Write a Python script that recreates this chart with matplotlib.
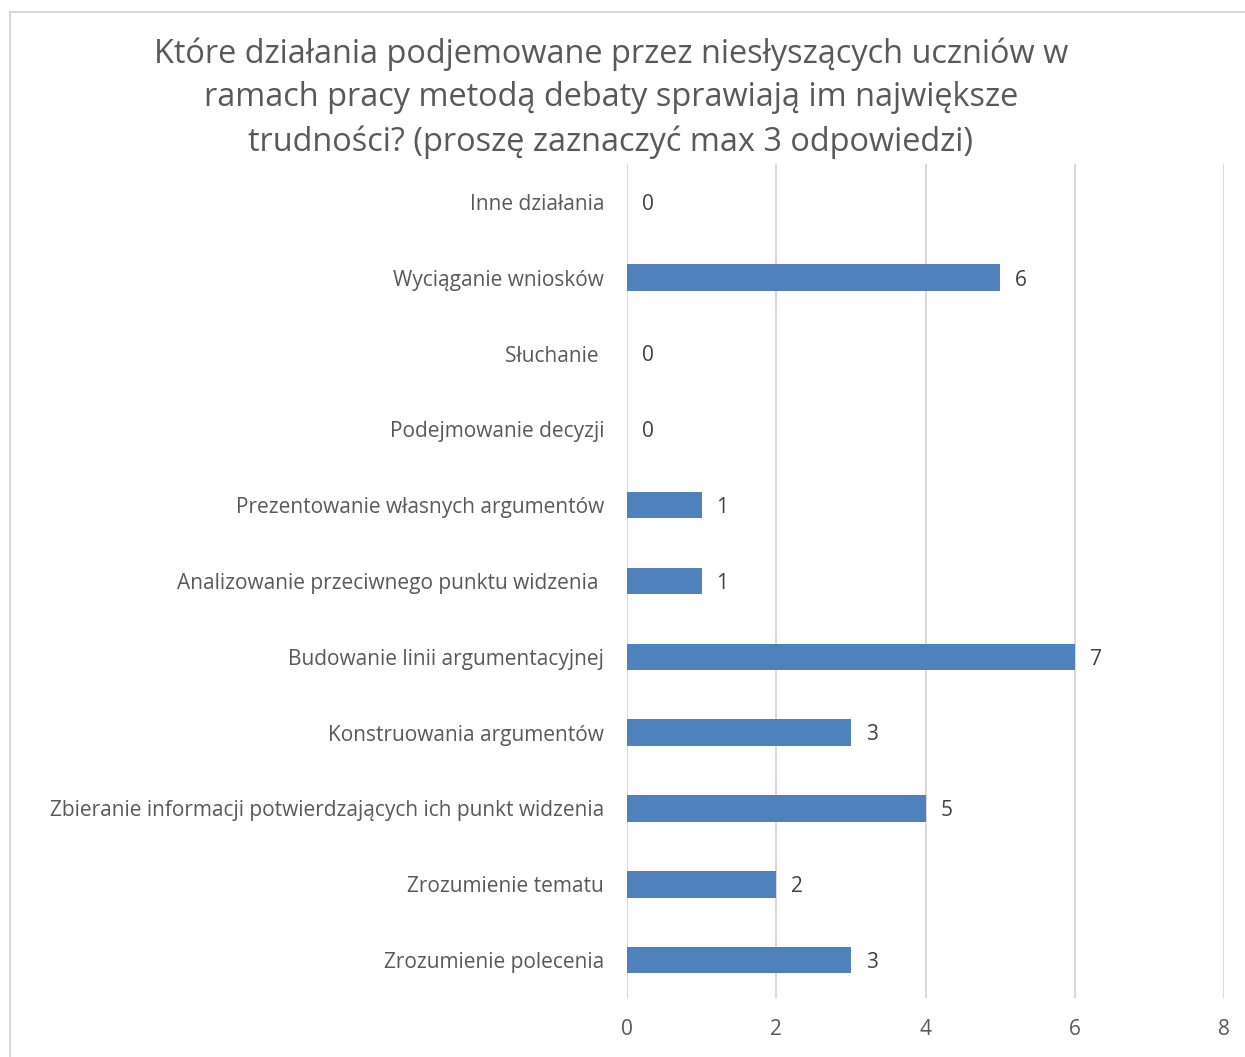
import matplotlib
matplotlib.use("Agg")
import matplotlib.pyplot as plt
from matplotlib.patches import Rectangle

categories = [
    "Inne działania",
    "Wyciąganie wniosków",
    "Słuchanie ",
    "Podejmowanie decyzji",
    "Prezentowanie własnych argumentów",
    "Analizowanie przeciwnego punktu widzenia ",
    "Budowanie linii argumentacyjnej",
    "Konstruowania argumentów",
    "Zbieranie informacji potwierdzających ich punkt widzenia",
    "Zrozumienie tematu",
    "Zrozumienie polecenia",
]
bar_values = [0, 5, 0, 0, 1, 1, 6, 3, 4, 2, 3]
label_values = [0, 6, 0, 0, 1, 1, 7, 3, 5, 2, 3]
x_ticks = [0, 2, 4, 6, 8]
title = ("Które działania podjemowane przez niesłyszących uczniów w\n"
         "ramach pracy metodą debaty sprawiają im największe\n"
         "trudności? (proszę zaznaczyć max 3 odpowiedzi)")

plt.rcParams['font.family'] = ['Open Sans', 'DejaVu Sans']
text_color = "#595959"
grid_color = "#d9d9d9"
fs = 15

fig = plt.figure(figsize=(12.45, 10.57), dpi=100)
ax = fig.add_axes([627/1245, 1-998/1057, (1224-627)/1245, (998-164)/1057])

y = list(range(len(categories)))
ax.barh(y, bar_values, height=0.35, color="#4f81bd", zorder=3)
for yi, bv, lv in zip(y, bar_values, label_values):
    ax.text(bv + 0.2, yi + 0.03, str(lv), va="center", ha="left", fontsize=fs, color="#404040")

ax.set_xlim(0, 8)
ax.set_ylim(len(categories) - 0.5, -0.5)
ax.set_yticks(y)
ax.set_yticklabels(categories, fontsize=fs, color=text_color)
ax.set_xticks(x_ticks)
ax.set_xticklabels([str(t) for t in x_ticks], fontsize=fs, color=text_color)
ax.tick_params(axis="both", length=0)
ax.tick_params(axis="y", pad=16.5)
ax.tick_params(axis="x", pad=15)
ax.grid(axis="x", color=grid_color, linewidth=1.5, zorder=0)
for s in ax.spines.values():
    s.set_visible(False)

fig.text(611/1245, 1-98/1057, title, ha="center", va="center", fontsize=23.4,
         color=text_color, linespacing=1.43)

border = Rectangle((10/1245, -0.02), 1.05, 1-12/1057+0.02, transform=fig.transFigure,
                   fill=False, edgecolor=grid_color, linewidth=1.5, clip_on=False)
fig.patches.append(border)

fig.savefig("out.png", dpi=100, facecolor="white")
